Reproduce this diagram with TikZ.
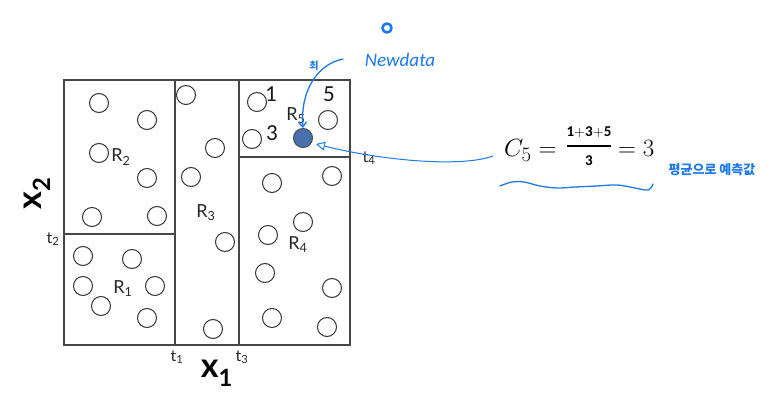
\documentclass[tikz,border=0pt]{standalone}
\usepackage{fontspec}
\setmainfont{Carlito}
\newfontfamily\gill{Lato}
\newfontfamily\kr{Noto Sans CJK KR}
\usetikzlibrary{arrows.meta}
\definecolor{annoblue}{RGB}{28,120,236}
\definecolor{dotfill}{RGB}{72,112,172}
\begin{document}
\begin{tikzpicture}[x=1pt,y=-1pt,
  box/.style={draw=black!72,line width=1.2pt},
  pt/.style={circle,draw=black!80,line width=1pt,minimum size=19pt,inner sep=0pt},
  lbl/.style={font=\gill\fontsize{18}{18}\selectfont,text=black!85,inner sep=0pt},
  tlbl/.style={font=\gill\fontsize{16}{16}\selectfont,text=black!85,inner sep=0pt},
  num/.style={font=\fontsize{23}{23}\selectfont,text=black!90,inner sep=0pt},
  axis/.style={font=\gill\bfseries\fontsize{34}{34}\selectfont,inner sep=0pt},
  frm/.style={font=\fontsize{30}{30}\selectfont,inner sep=0pt},
  frs/.style={font=\fontsize{15}{15}\selectfont,inner sep=0pt},
  anno/.style={draw=annoblue,line width=1.3pt,line cap=round,line join=round}]
\useasboundingbox (0,0) rectangle (773,403);
% partition
\draw[box] (64,80) rectangle (350,345);
\draw[box] (175,80) -- (175,345);
\draw[box] (64,234) -- (175,234);
\draw[box] (239,80) -- (239,345);
\draw[box] (239,157) -- (350,157);
% data points
\foreach \n/\x/\y in {a1/99/103,a2/147/120,a3/99/153,a4/147/178,a5/92/217,a6/157/216,
  b1/83/256,b2/132/259,b3/83/286,b4/155/286,b5/101/306,b6/147/318,
  c1/186/95,c2/215/148,c3/191/177,c4/225/242,c5/213/329,
  e1/257/102,e2/252/139,e3/328/120,
  d1/272/183,d2/332/176,d3/303/222,d4/268/235,d5/265/273,d6/332/288,d7/272/318,d8/327/327}
  \node[pt] (\n) at (\x,\y) {};
\node[pt,fill=dotfill,draw=black!70] (nd) at (303,138) {};
% region labels
\node[lbl] (r2) at (121,157) {R\textsubscript{2}};
\node[lbl] (r1) at (123,289) {R\textsubscript{1}};
\node[lbl] (r3) at (206,213) {R\textsubscript{3}};
\node[lbl] (r4) at (298,245) {R\textsubscript{4}};
\node[lbl] (r5) at (296,116) {R\textsubscript{5}};
\node[num] (n1) at (271,94) {1};
\node[num] (n3) at (272,133) {3};
\node[num] (n5) at (329,94) {5};
% thresholds
\node[tlbl] (t1) at (177,357) {t\textsubscript{1}};
\node[tlbl] (t3) at (242,357) {t\textsubscript{3}};
\node[tlbl] (t2) at (53,239) {t\textsubscript{2}};
\node[tlbl] (t4) at (369,158) {t\textsubscript{4}};
% axes
\node[axis] (x1) at (217,373) {x\textsubscript{1}};
\node[axis,rotate=90] (x2) at (37,193) {x\textsubscript{2}};
% formula
\node[frm,anchor=base west] (f1) at (504,157) {$C_5 =$};
\node[frs] (fn) at (589,132) {$\mathbf{1{+}3{+}5}$};
\node[frs] (fd) at (589,161) {$\mathbf{3}$};
\draw[line width=1.1pt] (567,146) -- (611,146);
\node[frm,anchor=base west] (f2) at (618,157) {$= 3$};
% annotations
\node[font=\itshape\fontsize{19}{19}\selectfont,text=annoblue,inner sep=0pt] (new) at (400,60) {Newdata};
\draw[anno,line width=2.6pt] (387,28) circle (4.5pt);
\node[font=\kr\bfseries\fontsize{10}{10}\selectfont,text=annoblue,inner sep=0pt] (mk) at (314,66) {최};
\coordinate (ns) at (343,59);
\draw[anno,-{Straight Barb[length=5pt,width=8pt]}] (ns) .. controls (318,64) and (300,90) .. (nd.north);
\coordinate (fs) at (493,156);
\coordinate (tip) at (316,144);
\draw[anno,line width=1pt,-{Triangle[open,length=9pt,width=9pt]}] (fs) .. controls (460,168) and (380,160) .. (tip);
\draw[anno] plot[smooth,tension=0.6] coordinates {(500,186) (512,182) (524,182) (540,186) (557,188) (575,187) (597,186) (617,185) (635,188) (648,190) (653,184)};
\node[font=\kr\bfseries\fontsize{13}{13}\selectfont,text=annoblue,inner sep=0pt] (kr) at (712,170) {평균으로 예측값};
\end{tikzpicture}
\end{document}
